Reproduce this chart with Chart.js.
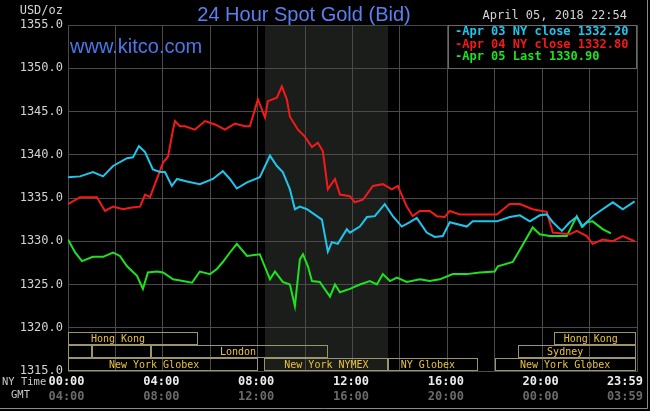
<!DOCTYPE html>
<html>
<head>
<meta charset="utf-8">
<script src="https://cdn.jsdelivr.net/npm/chart.js@4.4.1/dist/chart.umd.min.js"></script>
<style>
  html, body { margin: 0; padding: 0; background: #000; }
  #wrap { width: 650px; height: 411px; position: relative; }
</style>
</head>
<body>
<div id="wrap"><canvas id="c" width="650" height="411"></canvas></div>
<script>
// ---------------- DATA ----------------
const chartTitle = '24 Hour Spot Gold (Bid)';
const siteLabel = 'www.kitco.com';
const unitLabel = 'USD/oz';
const dateLabel = 'April 05, 2018 22:54';

const yTicks = [1315, 1320, 1325, 1330, 1335, 1340, 1345, 1350, 1355];

const tickHours = [0, 4, 8, 12, 16, 20, 23.983];
const nyTimeLabels = ['00:00', '04:00', '08:00', '12:00', '16:00', '20:00', '23:59'];
const gmtLabels = ['04:00', '08:00', '12:00', '16:00', '20:00', '00:00', '03:59'];

const legendLabels = ['-Apr 03 NY close 1332.20', '-Apr 04 NY close 1332.80', '-Apr 05 Last 1330.90'];

// Apr 03 (cyan)
const cyanHours = [0, 0.51, 1.05, 1.48, 1.90, 2.49, 2.74, 2.99, 3.25, 3.58, 3.88, 4.09, 4.38, 4.60, 5.02, 5.56, 6.11, 6.53, 6.83, 7.12, 7.55, 8.09, 8.52, 8.81, 9.06, 9.36, 9.57, 9.78, 10.08, 10.50, 10.71, 10.96, 11.13, 11.38, 11.76, 11.89, 12.31, 12.61, 12.94, 13.36, 13.70, 14.08, 14.42, 14.71, 15.13, 15.47, 15.81, 16.10, 16.82, 17.07, 18.09, 18.63, 19.06, 19.48, 19.90, 20.19, 20.45, 20.83, 21.16, 21.46, 21.71, 22.13, 22.55, 22.98, 23.40, 23.90];
const cyanValues = [1337.4, 1337.5, 1338.0, 1337.5, 1338.7, 1339.6, 1339.7, 1341.0, 1340.3, 1338.3, 1338.0, 1338.0, 1336.4, 1337.2, 1336.9, 1336.6, 1337.2, 1338.1, 1337.2, 1336.1, 1336.8, 1337.4, 1339.9, 1338.7, 1338.0, 1336.0, 1333.7, 1334.0, 1333.7, 1332.9, 1332.5, 1328.8, 1329.9, 1329.7, 1331.4, 1331.0, 1331.7, 1332.8, 1332.9, 1334.3, 1332.9, 1331.7, 1332.2, 1332.7, 1331.0, 1330.5, 1330.6, 1332.2, 1331.7, 1332.3, 1332.3, 1332.8, 1333.0, 1332.3, 1333.0, 1333.1, 1332.2, 1331.2, 1332.2, 1332.8, 1331.7, 1332.9, 1333.7, 1334.5, 1333.7, 1334.6];

// Apr 04 (red)
const redHours = [0, 0.51, 1.05, 1.22, 1.56, 1.90, 2.32, 2.70, 3.04, 3.25, 3.46, 3.75, 4.01, 4.22, 4.43, 4.51, 4.72, 4.93, 5.35, 5.78, 6.20, 6.62, 7.04, 7.46, 7.67, 8.01, 8.31, 8.43, 8.81, 9.02, 9.23, 9.36, 9.70, 9.99, 10.29, 10.54, 10.75, 10.96, 11.26, 11.47, 11.89, 12.10, 12.44, 12.86, 13.28, 13.66, 13.91, 14.29, 14.54, 14.84, 15.26, 15.56, 15.89, 16.10, 16.53, 18.09, 18.63, 19.06, 19.60, 20.19, 20.45, 21.16, 21.46, 21.88, 22.13, 22.55, 22.98, 23.40, 23.90];
const redValues = [1334.3, 1335.1, 1335.1, 1335.1, 1333.5, 1334.0, 1333.7, 1333.9, 1334.0, 1335.4, 1335.1, 1337.2, 1339.1, 1339.8, 1342.9, 1343.9, 1343.3, 1343.3, 1342.9, 1343.9, 1343.5, 1342.9, 1343.6, 1343.3, 1343.3, 1346.4, 1344.3, 1346.2, 1346.6, 1347.9, 1346.4, 1344.4, 1342.9, 1342.1, 1340.9, 1341.4, 1340.4, 1336.0, 1337.2, 1335.4, 1335.2, 1334.5, 1334.8, 1336.4, 1336.6, 1336.0, 1336.4, 1334.0, 1332.9, 1333.5, 1333.5, 1332.9, 1332.8, 1333.5, 1333.1, 1333.1, 1334.3, 1334.3, 1333.7, 1333.4, 1331.0, 1330.8, 1331.2, 1330.6, 1329.7, 1330.2, 1330.0, 1330.6, 1330.0];

// Apr 05 (green)
const greenHours = [0, 0.30, 0.59, 1.05, 1.48, 1.90, 2.19, 2.49, 2.91, 3.16, 3.37, 3.75, 4.01, 4.43, 4.85, 5.23, 5.56, 5.99, 6.28, 6.53, 6.83, 7.12, 7.55, 8.09, 8.52, 8.73, 9.06, 9.36, 9.57, 9.78, 9.91, 10.12, 10.29, 10.62, 11.05, 11.26, 11.47, 11.89, 12.31, 12.73, 13.03, 13.28, 13.58, 13.87, 14.29, 14.84, 15.26, 15.68, 16.23, 16.82, 17.37, 18.00, 18.13, 18.76, 19.14, 19.60, 19.90, 20.32, 21.04, 21.46, 21.67, 21.88, 22.13, 22.55, 22.90];
const greenValues = [1330.2, 1328.7, 1327.7, 1328.2, 1328.2, 1328.7, 1328.3, 1327.1, 1326.0, 1324.5, 1326.4, 1326.5, 1326.4, 1325.6, 1325.4, 1325.2, 1326.5, 1326.2, 1326.8, 1327.6, 1328.7, 1329.7, 1328.3, 1328.5, 1325.6, 1326.5, 1325.3, 1325.0, 1322.5, 1327.9, 1328.5, 1327.1, 1325.4, 1325.3, 1323.6, 1325.0, 1324.1, 1324.5, 1325.0, 1325.4, 1325.0, 1326.2, 1325.4, 1325.8, 1325.3, 1325.6, 1325.4, 1325.6, 1326.2, 1326.2, 1326.4, 1326.5, 1327.1, 1327.6, 1329.4, 1331.6, 1330.8, 1330.6, 1330.6, 1332.9, 1331.7, 1332.2, 1332.3, 1331.4, 1330.9];

// Trading sessions (row 0 = top)
const sessionRows   = [0, 0, 1, 1, 1, 1, 2, 2, 2, 2];
const sessionStarts = [0, 20.5, 0, 1.0, 3.5, 19.0, 0, 8.25, 13.5, 18.0];
const sessionEnds   = [5.5, 24, 1.0, 3.5, 10.95, 24, 8.0, 13.5, 17.3, 24];
const sessionLabels = ['Hong Kong', 'Hong Kong', '', '', 'London', 'Sydney', 'New York Globex', 'New York NYMEX', 'NY Globex', 'New York Globex'];
const sessionLabelHours = [2.11, 22.05, 0, 0, 7.17, 20.97, 3.63, 10.9, 15.18, 20.97];
const sessionRowTops = [1319.5, 1318.0, 1316.5];
const sessionRowHeight = 1.5;

const nymexShade = [8.31, 13.5];

// ---------------- STYLE ----------------
const MONO = '"DejaVu Sans Mono", monospace';
const SANS = '"Liberation Sans", Arial, sans-serif';
const colCyan = '#1ec6ee';
const colRed = '#f41a1a';
const colGreen = '#1ee21e';
const gridCol = '#4a4a4a';

const toXY = (hs, vs) => hs.map((h, i) => ({ x: h, y: vs[i] }));

const bgPlugin = {
  id: 'bgPlugin',
  beforeDraw(chart) {
    const { ctx, chartArea, scales } = chart;
    ctx.save();
    ctx.fillStyle = '#000';
    ctx.fillRect(0, 0, chart.width, chart.height);
    const x1 = scales.x.getPixelForValue(nymexShade[0]);
    const x2 = scales.x.getPixelForValue(nymexShade[1]);
    ctx.fillStyle = '#1b1d1b';
    ctx.fillRect(x1, chartArea.top, x2 - x1, chartArea.bottom - chartArea.top);
    ctx.restore();
  }
};

const decorPlugin = {
  id: 'decorPlugin',
  afterDraw(chart) {
    const { ctx, chartArea, scales } = chart;
    const xs = scales.x, ys = scales.y;
    ctx.save();

    // Sessions
    ctx.lineWidth = 1;
    for (let i = 0; i < sessionRows.length; i++) {
      const top = sessionRowTops[sessionRows[i]];
      const yT = Math.round(ys.getPixelForValue(top)) + 0.5;
      const yB = Math.round(ys.getPixelForValue(top - sessionRowHeight)) - 0.5;
      const xL = Math.round(xs.getPixelForValue(sessionStarts[i])) + 0.5;
      const xR = Math.min(Math.round(xs.getPixelForValue(sessionEnds[i])) - 0.5, chartArea.right - 1.5);
      ctx.strokeStyle = '#9c956a';
      ctx.strokeRect(xL, yT, xR - xL, yB - yT);
      if (sessionLabels[i]) {
        ctx.font = '10px ' + MONO;
        ctx.fillStyle = '#e8c23c';
        ctx.textAlign = 'center';
        ctx.textBaseline = 'middle';
        ctx.fillText(sessionLabels[i], xs.getPixelForValue(sessionLabelHours[i]), (yT + yB) / 2 + 0.5);
      }
    }

    // Title and site
    ctx.textBaseline = 'alphabetic';
    ctx.textAlign = 'center';
    ctx.font = '20px ' + SANS;
    ctx.fillStyle = '#5a80f2';
    ctx.fillText(chartTitle, 304, 21);
    ctx.textAlign = 'left';
    ctx.fillStyle = '#4a78ea';
    ctx.fillText(siteLabel, 70, 53);

    // Unit and date
    ctx.font = '12px ' + MONO;
    ctx.textBaseline = 'middle';
    ctx.fillStyle = '#d4d4d4';
    ctx.textAlign = 'right';
    ctx.fillText(unitLabel, 63, 11);
    ctx.fillText(dateLabel, 627, 16);

    // Legend box
    const lx1 = 448.5, ly1 = Math.round(chartArea.top) + 0.5;
    const lx2 = Math.round(chartArea.right) - 0.5;
    const ly2 = Math.round(ys.getPixelForValue(1350)) + 0.5;
    ctx.fillStyle = '#000';
    ctx.fillRect(lx1, ly1, lx2 - lx1, ly2 - ly1);
    ctx.strokeStyle = '#6a6a6a';
    ctx.strokeRect(lx1, ly1, lx2 - lx1, ly2 - ly1);
    const legCols = [colCyan, colRed, colGreen];
    const legY = [32, 44.5, 57];
    ctx.font = 'bold 12px ' + MONO;
    ctx.textAlign = 'left';
    for (let i = 0; i < legendLabels.length; i++) {
      ctx.fillStyle = legCols[i];
      ctx.fillText(legendLabels[i], 455, legY[i]);
    }

    // Bottom time labels
    ctx.font = '10.5px ' + MONO;
    ctx.fillStyle = '#c8c8c8';
    ctx.textAlign = 'left';
    ctx.fillText('NY Time', 2, 382);
    ctx.fillText('GMT', 11, 395);
    ctx.font = 'bold 12px ' + MONO;
    for (let i = 0; i < tickHours.length; i++) {
      let x = xs.getPixelForValue(tickHours[i]) - 1.5;
      const w = ctx.measureText(nyTimeLabels[i]).width;
      if (x + w / 2 > 643) x = 643 - w / 2;
      ctx.textAlign = 'center';
      ctx.fillStyle = '#ececec';
      ctx.fillText(nyTimeLabels[i], x, 382);
      ctx.fillStyle = '#6a6a6a';
      ctx.fillText(gmtLabels[i], x, 397);
    }

    // Outer frame lines
    ctx.strokeStyle = '#8a8a8a';
    ctx.beginPath();
    ctx.moveTo(647.5, 0);
    ctx.lineTo(647.5, 408.5);
    ctx.lineTo(0, 408.5);
    ctx.stroke();
    ctx.restore();
  }
};

new Chart(document.getElementById('c'), {
  type: 'line',
  data: {
    datasets: [
      { label: 'Apr 03', data: toXY(cyanHours, cyanValues), borderColor: colCyan, borderWidth: 2, pointRadius: 0, tension: 0 },
      { label: 'Apr 04', data: toXY(redHours, redValues), borderColor: colRed, borderWidth: 2, pointRadius: 0, tension: 0 },
      { label: 'Apr 05', data: toXY(greenHours, greenValues), borderColor: colGreen, borderWidth: 2, pointRadius: 0, tension: 0 }
    ]
  },
  options: {
    responsive: false,
    animation: false,
    devicePixelRatio: 1,
    layout: { padding: { top: 25, right: 13, bottom: 40, left: 0 } },
    plugins: { legend: { display: false }, tooltip: { enabled: false }, title: { display: false } },
    scales: {
      x: {
        type: 'linear', min: 0, max: 24,
        ticks: { display: false, stepSize: 2 },
        grid: { color: gridCol, drawTicks: false, lineWidth: 1 },
        border: { display: true, color: gridCol }
      },
      y: {
        min: 1315, max: 1355,
        afterFit(scale) { scale.width = 68; },
        afterBuildTicks(scale) { scale.ticks = yTicks.map(v => ({ value: v })); },
        ticks: {
          padding: 5,
          color: '#d4d4d4',
          font: { family: MONO, size: 12 },
          callback: v => Number(v).toFixed(1)
        },
        grid: { color: gridCol, drawTicks: false, lineWidth: 1 },
        border: { display: true, color: gridCol }
      }
    }
  },
  plugins: [bgPlugin, decorPlugin]
});
</script>
</body>
</html>
